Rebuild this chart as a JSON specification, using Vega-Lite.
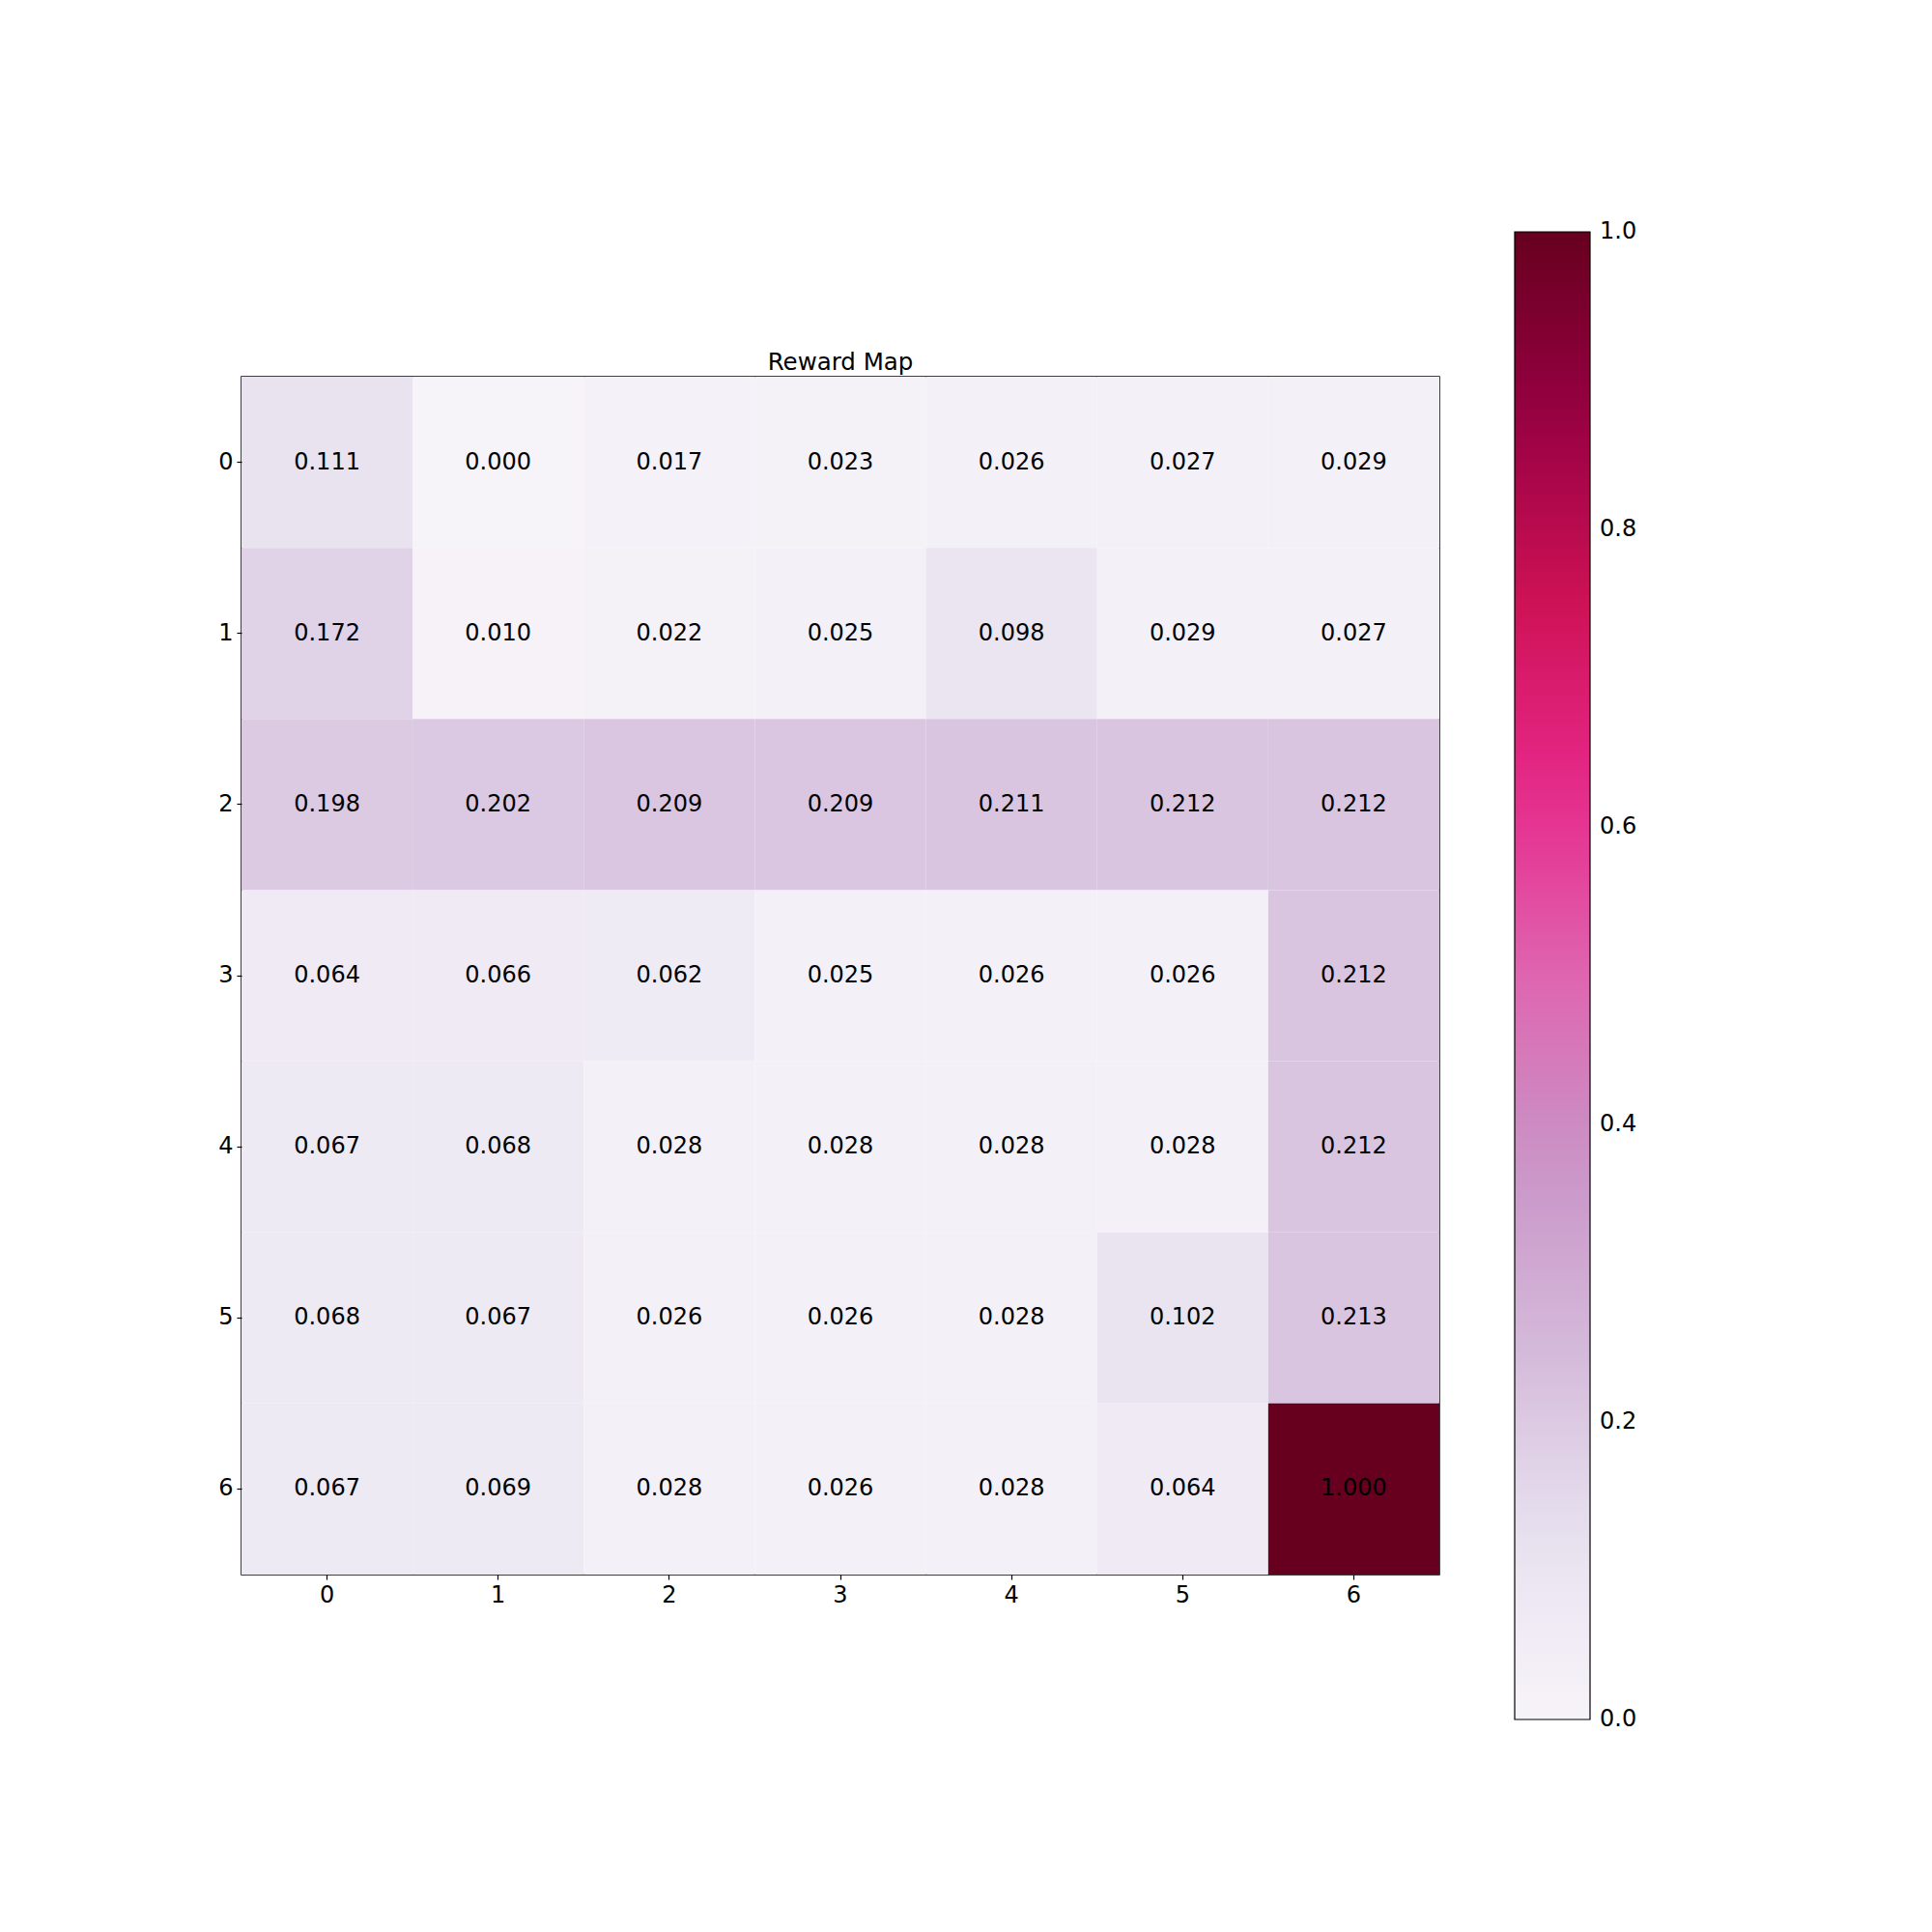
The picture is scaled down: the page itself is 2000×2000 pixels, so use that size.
{
  "$schema": "https://vega.github.io/schema/vega-lite/v6.json",
  "autosize": {"type": "none"},
  "padding": {"left": 250, "top": 390, "right": 510, "bottom": 370},
  "width": 1240,
  "height": 1240,
  "background": "white",
  "config": {
    "font": "DejaVu Sans",
    "view": {"stroke": "black", "strokeWidth": 1.5},
    "axis": {"labelFont": "DejaVu Sans", "labelFontSize": 24, "labelColor": "black", "tickColor": "black", "tickSize": 5, "tickWidth": 1.2, "labelPadding": 4, "domain": false, "grid": false, "title": null, "labelAngle": 0},
    "legend": {"labelFont": "DejaVu Sans", "labelFontSize": 24, "labelColor": "black"}
  },
  "title": {"text": "Reward Map", "font": "DejaVu Sans", "fontSize": 24.5, "fontWeight": "normal", "color": "black", "anchor": "middle", "offset": -148},
  "data": {"values": [
    {"row": 0, "col": 0, "v": 0.111}, {"row": 0, "col": 1, "v": 0.000}, {"row": 0, "col": 2, "v": 0.017}, {"row": 0, "col": 3, "v": 0.023}, {"row": 0, "col": 4, "v": 0.026}, {"row": 0, "col": 5, "v": 0.027}, {"row": 0, "col": 6, "v": 0.029},
    {"row": 1, "col": 0, "v": 0.172}, {"row": 1, "col": 1, "v": 0.010}, {"row": 1, "col": 2, "v": 0.022}, {"row": 1, "col": 3, "v": 0.025}, {"row": 1, "col": 4, "v": 0.098}, {"row": 1, "col": 5, "v": 0.029}, {"row": 1, "col": 6, "v": 0.027},
    {"row": 2, "col": 0, "v": 0.198}, {"row": 2, "col": 1, "v": 0.202}, {"row": 2, "col": 2, "v": 0.209}, {"row": 2, "col": 3, "v": 0.209}, {"row": 2, "col": 4, "v": 0.211}, {"row": 2, "col": 5, "v": 0.212}, {"row": 2, "col": 6, "v": 0.212},
    {"row": 3, "col": 0, "v": 0.064}, {"row": 3, "col": 1, "v": 0.066}, {"row": 3, "col": 2, "v": 0.062}, {"row": 3, "col": 3, "v": 0.025}, {"row": 3, "col": 4, "v": 0.026}, {"row": 3, "col": 5, "v": 0.026}, {"row": 3, "col": 6, "v": 0.212},
    {"row": 4, "col": 0, "v": 0.067}, {"row": 4, "col": 1, "v": 0.068}, {"row": 4, "col": 2, "v": 0.028}, {"row": 4, "col": 3, "v": 0.028}, {"row": 4, "col": 4, "v": 0.028}, {"row": 4, "col": 5, "v": 0.028}, {"row": 4, "col": 6, "v": 0.212},
    {"row": 5, "col": 0, "v": 0.068}, {"row": 5, "col": 1, "v": 0.067}, {"row": 5, "col": 2, "v": 0.026}, {"row": 5, "col": 3, "v": 0.026}, {"row": 5, "col": 4, "v": 0.028}, {"row": 5, "col": 5, "v": 0.102}, {"row": 5, "col": 6, "v": 0.213},
    {"row": 6, "col": 0, "v": 0.067}, {"row": 6, "col": 1, "v": 0.069}, {"row": 6, "col": 2, "v": 0.028}, {"row": 6, "col": 3, "v": 0.026}, {"row": 6, "col": 4, "v": 0.028}, {"row": 6, "col": 5, "v": 0.064}, {"row": 6, "col": 6, "v": 1.000}
  ]},
  "encoding": {
    "x": {"field": "col", "type": "ordinal", "axis": {"orient": "bottom"}},
    "y": {"field": "row", "type": "ordinal", "axis": {"orient": "left"}}
  },
  "layer": [
    {
      "mark": {"type": "rect"},
      "encoding": {
        "color": {
          "field": "v", "type": "quantitative",
          "scale": {
            "domain": [0, 0.125, 0.25, 0.375, 0.5, 0.625, 0.75, 0.875, 1],
            "range": ["#f7f4f9", "#e7e1ef", "#d4b9da", "#c994c7", "#df65b0", "#e7298a", "#ce1256", "#980043", "#67001f"],
            "interpolate": "rgb"
          },
          "legend": {
            "title": null, "orient": "none", "direction": "vertical",
            "legendX": 1318, "legendY": -150,
            "gradientLength": 1540, "gradientThickness": 78,
            "gradientStrokeColor": "black", "gradientStrokeWidth": 1.2,
            "values": [0, 0.2, 0.4, 0.6, 0.8, 1.0], "format": ".1f",
            "labelOffset": 10, "labelOverlap": false,
            "encode": {"labels": {"update": {"baseline": {"value": "middle"}}}}
          }
        }
      }
    },
    {
      "mark": {"type": "text", "fontSize": 24, "color": "black", "font": "DejaVu Sans"},
      "encoding": {"text": {"field": "v", "type": "quantitative", "format": ".3f"}}
    }
  ]
}
